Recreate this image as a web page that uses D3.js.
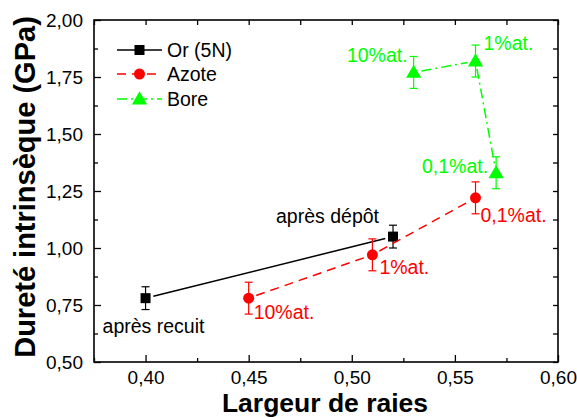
<!DOCTYPE html>
<html><head><meta charset="utf-8">
<script src="https://cdn.jsdelivr.net/npm/d3@7"></script>
<style>body{margin:0;background:#fff}svg text{font-family:"Liberation Sans",Arial,sans-serif}</style>
</head><body><svg id="c" width="577" height="418"></svg>
<script>
// ---- data ----
const orX = [0.40, 0.52];
const orY = [0.78, 1.05];
const orErr = [0.05, 0.05];
const orLabels = ["après recuit", "après dépôt"];

const azoteX = [0.45, 0.51, 0.56];
const azoteY = [0.78, 0.97, 1.22];
const azoteErr = [0.07, 0.07, 0.07];
const azoteLabels = ["10%at.", "1%at.", "0,1%at."];

const boreX = [0.53, 0.56, 0.57];
const boreY = [1.77, 1.82, 1.33];
const boreErr = [0.07, 0.07, 0.07];
const boreLabels = ["10%at.", "1%at.", "0,1%at."];

const seriesNames = ["Or (5N)", "Azote", "Bore"];
const xTicks = [0.40, 0.45, 0.50, 0.55, 0.60];
const yTicks = [0.50, 0.75, 1.00, 1.25, 1.50, 1.75, 2.00];
const xTitle = "Largeur de raies";
const yTitle = "Dureté intrinsèque (GPa)";

// ---- layout ----
const L = 94, R = 558, T = 20, B = 362;
const svg = d3.select("#c");
const x = d3.scaleLinear().domain([0.375, 0.60]).range([L, R]);
const y = d3.scaleLinear().domain([0.50, 2.00]).range([B, T]);
const fmt = d => d3.format(".2f")(d).replace(".", ",");
const xMinor = d3.range(0.375, 0.6001, 0.025).filter(v => !xTicks.some(t => Math.abs(t - v) < 1e-6));
const yMinor = d3.range(0.625, 2.0, 0.25);

// axes
const gB = svg.append("g").attr("transform", `translate(0,${B})`)
  .call(d3.axisBottom(x).tickValues(xTicks).tickFormat(fmt).tickSizeInner(-7).tickSizeOuter(0).tickPadding(8.5));
const gBm = svg.append("g").attr("transform", `translate(0,${B})`)
  .call(d3.axisBottom(x).tickValues(xMinor).tickFormat("").tickSizeInner(-4).tickSizeOuter(0));
const gL = svg.append("g").attr("transform", `translate(${L},0)`)
  .call(d3.axisLeft(y).tickValues(yTicks).tickFormat(fmt).tickSizeInner(-7).tickSizeOuter(0).tickPadding(11));
const gLm = svg.append("g").attr("transform", `translate(${L},0)`)
  .call(d3.axisLeft(y).tickValues(yMinor).tickFormat("").tickSizeInner(-4).tickSizeOuter(0));
const gT = svg.append("g").attr("transform", `translate(0,${T})`)
  .call(d3.axisTop(x).tickValues(xTicks.concat(xMinor)).tickFormat("").tickSizeInner(-5).tickSizeOuter(0));
const gR = svg.append("g").attr("transform", `translate(${R},0)`)
  .call(d3.axisRight(y).tickValues(yTicks.concat(yMinor)).tickFormat("").tickSizeInner(-5).tickSizeOuter(0));
[gB, gBm, gL, gLm, gT, gR].forEach(g => {
  g.select(".domain").remove();
  g.selectAll(".tick line").attr("stroke", "#000").attr("stroke-width", 1.3);
  g.selectAll("text").attr("font-size", 19).attr("fill", "#000").attr("font-family", "Liberation Sans, Arial, sans-serif");
});
svg.append("rect").attr("x", L).attr("y", T).attr("width", R - L).attr("height", B - T)
  .attr("fill", "none").attr("stroke", "#000").attr("stroke-width", 1.6);

// titles
svg.append("text").attr("x", (L + R) / 2 - 1).attr("y", 411.5).attr("text-anchor", "middle")
  .attr("font-size", 26.5).attr("font-weight", "bold").text(xTitle);
svg.append("text").attr("transform", `translate(35,${(T + B) / 2 - 4}) rotate(-90)`).attr("text-anchor", "middle")
  .attr("font-size", 29).attr("font-weight", "bold").text(yTitle);

// series
const series = [
  {xs: orX, ys: orY, es: orErr, color: "#000", dash: null, shape: "square"},
  {xs: azoteX, ys: azoteY, es: azoteErr, color: "#ff0000", dash: "9,6", shape: "circle"},
  {xs: boreX, ys: boreY, es: boreErr, color: "#00ff00", dash: "10,4,2,4", shape: "triangle"}
];
const sym = {
  square: d3.symbol().type(d3.symbolSquare).size(100),
  circle: d3.symbol().type(d3.symbolCircle).size(95),
  triangle: d3.symbol().type(d3.symbolTriangle).size(100)
};
const gap = 8;
series.forEach(s => {
  const pts = s.xs.map((v, i) => [x(v), y(s.ys[i])]);
  for (let i = 0; i < pts.length - 1; i++) {
    const [x1, y1] = pts[i], [x2, y2] = pts[i + 1];
    const len = Math.hypot(x2 - x1, y2 - y1), ux = (x2 - x1) / len, uy = (y2 - y1) / len;
    svg.append("line").attr("x1", x1 + ux * gap).attr("y1", y1 + uy * gap)
      .attr("x2", x2 - ux * gap).attr("y2", y2 - uy * gap)
      .attr("stroke", s.color).attr("stroke-width", 1.5).attr("stroke-dasharray", s.dash);
  }
  s.xs.forEach((v, i) => {
    const cx = x(v), y0 = y(s.ys[i] - s.es[i]), y1 = y(s.ys[i] + s.es[i]);
    const g = svg.append("g").attr("stroke", s.color).attr("stroke-width", 1.2);
    g.append("line").attr("x1", cx).attr("x2", cx).attr("y1", y0).attr("y2", y1);
    g.append("line").attr("x1", cx - 4).attr("x2", cx + 4).attr("y1", y0).attr("y2", y0);
    g.append("line").attr("x1", cx - 4).attr("x2", cx + 4).attr("y1", y1).attr("y2", y1);
    svg.append("path").attr("d", sym[s.shape]()).attr("fill", s.color)
      .attr("transform", `translate(${cx},${y(s.ys[i]) + (s.shape === "triangle" ? 1 : 0)})`);
  });
});

// annotations (offsets relative to points)
const ann = (txt, xv, yv, dx, dy, color, anchor) =>
  svg.append("text").attr("x", x(xv) + dx).attr("y", y(yv) + dy).attr("fill", color)
    .attr("font-size", 19.5).attr("text-anchor", anchor || "start").text(txt);
ann(orLabels[0], orX[0], orY[0], -43, 35, "#000");
ann(orLabels[1], orX[1], orY[1], -14, -14, "#000", "end");
ann(azoteLabels[0], azoteX[0], azoteY[0], 5, 21, "#ff0000");
ann(azoteLabels[1], azoteX[1], azoteY[1], 7, 19, "#ff0000");
ann(azoteLabels[2], azoteX[2], azoteY[2], 5, 24, "#ff0000");
ann(boreLabels[0], boreX[0], boreY[0], -6, -10, "#00ff00", "end");
ann(boreLabels[1], boreX[1], boreY[1], 8, -11, "#00ff00");
ann(boreLabels[2], boreX[2], boreY[2], -8, 0, "#00ff00", "end");

// legend
const legY = [50, 74, 99];
series.forEach((s, i) => {
  svg.append("line").attr("x1", 117).attr("x2", 162).attr("y1", legY[i]).attr("y2", legY[i])
    .attr("stroke", s.color).attr("stroke-width", 1.5).attr("stroke-dasharray", s.dash);
  svg.append("path").attr("d", sym[s.shape]()).attr("fill", s.color)
    .attr("transform", `translate(139.5,${legY[i] + (s.shape === "triangle" ? 1 : 0)})`);
  svg.append("text").attr("x", 167).attr("y", legY[i] + 7).attr("font-size", 19.5).text(seriesNames[i]);
});
</script></body></html>
